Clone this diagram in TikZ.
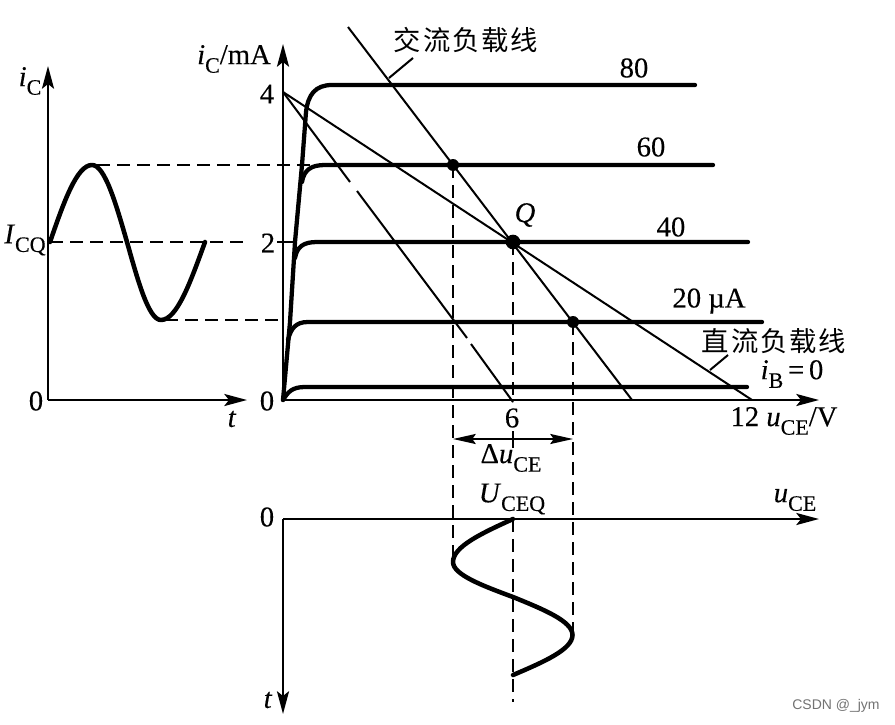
\documentclass[tikz,border=0pt]{standalone}
\usepackage{fontspec}
\setmainfont{Liberation Serif}[FakeBold=0.25]
\newfontfamily\cjkf[LetterSpace=7]{Noto Sans CJK SC}
\newfontfamily\wmf{Liberation Sans}
\usetikzlibrary{arrows.meta}
\newcommand\lowsub[1]{\raisebox{-.3em}{\fontsize{16.5}{17}\selectfont #1}}
\tikzset{
  x=0.75pt,y=-0.75pt,
  axisline/.style={line width=1.9pt,-{Stealth[length=17pt,width=9pt,inset=3.5pt]}},
  thinline/.style={line width=1.5pt},
  curve/.style={line width=3.2pt,line cap=round,line join=round},
  wave/.style={line width=3.4pt,line cap=round,line join=round},
  dashline/.style={line width=1.7pt,dash pattern=on 10pt off 5pt},
  dot/.style={circle,fill=black,inner sep=0pt,minimum size=9pt},
  lab/.style={inner sep=0pt,font=\fontsize{21.5}{23}\selectfont},
  cjklab/.style={inner sep=0pt,font=\cjkf\fontsize{20.5}{22}\selectfont},
}
\begin{document}
\begin{tikzpicture}
\useasboundingbox[fill=white] (0,0) rectangle (895,724);
% key points
\coordinate (LO) at (48,400); \coordinate (LY) at (48,66); \coordinate (LX) at (247,400);
\coordinate (MO) at (283,400); \coordinate (MY) at (283,44); \coordinate (MX) at (819,400);
\coordinate (BO) at (283,519); \coordinate (BX) at (819,519); \coordinate (BT) at (283,714);
\coordinate (M4) at (283,92); \coordinate (DCend) at (752,400);
\coordinate (ACtop) at (348,27); \coordinate (ACend) at (632,400);
\coordinate (S6) at (513,402);
\coordinate (P60) at (453,165); \coordinate (PQ) at (513,242); \coordinate (P20) at (573,322);
% dashed guides
\draw[dashline] (97,165) -- (P60);
\draw[dashline] (50,242) -- (248,242);
\draw[line width=1.7pt] (277,242) -- (296,242);
\draw[dashline] (165,320) -- (283,320);
\draw[dashline] (P60) -- (453,558);
\draw[dashline] (PQ) -- (S6);
\draw[dashline] (513,519) -- (513,702);
\draw[dashline] (P20) -- (573,632);
\draw[line width=1.7pt] (513,431) -- (513,448);
% axes
\draw[axisline] (LO) -- (LY);
\draw[axisline] (LO) -- (LX);
\draw[axisline] (MO) -- (MY);
\draw[axisline] (MO) -- (MX);
\draw[axisline] (BO) -- (BX);
\draw[axisline] (BO) -- (BT);
% output curves
\draw[curve] (MO) -- (290,322) -- (295,242) -- (302,165) -- (306,112) .. controls (308,95) and (315,85) .. (332,85) -- (695,85);
\draw[curve] (302,182) .. controls (304,170) and (311,165) .. (325,165) -- (713,165);
\draw[curve] (295,258) .. controls (297,247) and (303,242) .. (317,242) -- (748,242);
\draw[curve] (288,340) .. controls (291,328) and (296,322) .. (308,322) -- (762,322);
\draw[curve] (MO) .. controls (288,392) and (292,387) .. (305,387) -- (747,387);
% load lines
\draw[thinline] (M4) -- (DCend);
\draw[thinline] (ACtop) -- (ACend);
\draw[thinline] (M4) -- (350,182) (357,191) -- (467,338) (471,344) -- (S6);
% leaders
\coordinate (L1a) at (413,58); \coordinate (L1b) at (389,78);
\coordinate (L2a) at (728,355); \coordinate (L2b) at (710,370);
\draw[thinline] (L1a) -- (L1b);
\draw[thinline] (L2a) -- (L2b);
% waves
\draw[wave] (50,242) .. controls (63.7,202.3) and (76.8,165) .. (92,165)
  .. controls (104.7,165) and (115.6,202.6) .. (127,242)
  .. controls (138.1,281.4) and (148.7,320) .. (161,320)
  .. controls (177,320) and (190.7,281.4) .. (205,242);
\draw[wave] (513,519) .. controls (482.3,533) and (453,546.4) .. (453,562)
  .. controls (453,574.7) and (482.3,585.6) .. (513,597)
  .. controls (543.5,609.4) and (572.5,621.2) .. (572.5,635)
  .. controls (572.5,649.5) and (543.5,662) .. (513,675);
% operating points
\node[dot] (d60) at (P60) {};
\node[dot,minimum size=11pt] (dQ) at (PQ) {};
\node[dot] (d20) at (P20) {};
% delta arrow
\coordinate (DA) at (453,439); \coordinate (DB) at (573,439);
\draw[line width=1.5pt,{Stealth[length=17pt,width=7.5pt,inset=2.5pt]}-{Stealth[length=17pt,width=7.5pt,inset=2.5pt]}] (DA) -- (DB);
% labels
\node[lab] (tiC) at (30,81) {\textit{i}\lowsub{C}};
\node[lab] (tICQ) at (25,240) {\textit{I}\lowsub{CQ}};
\node[lab] (tL0) at (36,401) {0};
\node[lab] (tLt) at (232,419) {\textit{t}};
\node[lab] (tMi) at (234,59) {\textit{i}\lowsub{C}/mA};
\node[lab] (t4) at (267,94) {4};
\node[lab] (t2) at (268,243) {2};
\node[lab] (t0) at (267,401) {0};
\node[lab] (t80) at (634,68) {80};
\node[lab] (t60) at (651,147) {60};
\node[lab] (t40) at (671,227) {40};
\node[lab] (t20) at (709,301) {20 µA};
\node[lab] (tQ) at (525,215) {\textit{Q}};
\node[lab] (tiB) at (792,374) {\textit{i}\lowsub{B}\,=\,0};
\node[lab] (t12) at (784,421) {12 \textit{u}\lowsub{CE}/V};
\node[lab] (t6) at (512,418) {6};
\node[lab] (tDu) at (511,458) {Δ\textit{u}\lowsub{CE}};
\node[lab] (tU) at (512,499) {\textit{U}\lowsub{CEQ}};
\node[lab] (tB0) at (267,517) {0};
\node[lab] (tBu) at (795,500) {\textit{u}\lowsub{CE}};
\node[lab] (tBt) at (268,700) {\textit{t}};
\node[cjklab] (tAC) at (466,40) {交流负载线};
\node[cjklab] (tDC) at (774,341) {直流负载线};
\node[inner sep=0pt,text=black!55,font=\wmf\fontsize{10.5}{12}\selectfont] (wm) at (836,706) {CSDN @\_jym};
\end{tikzpicture}
\end{document}
